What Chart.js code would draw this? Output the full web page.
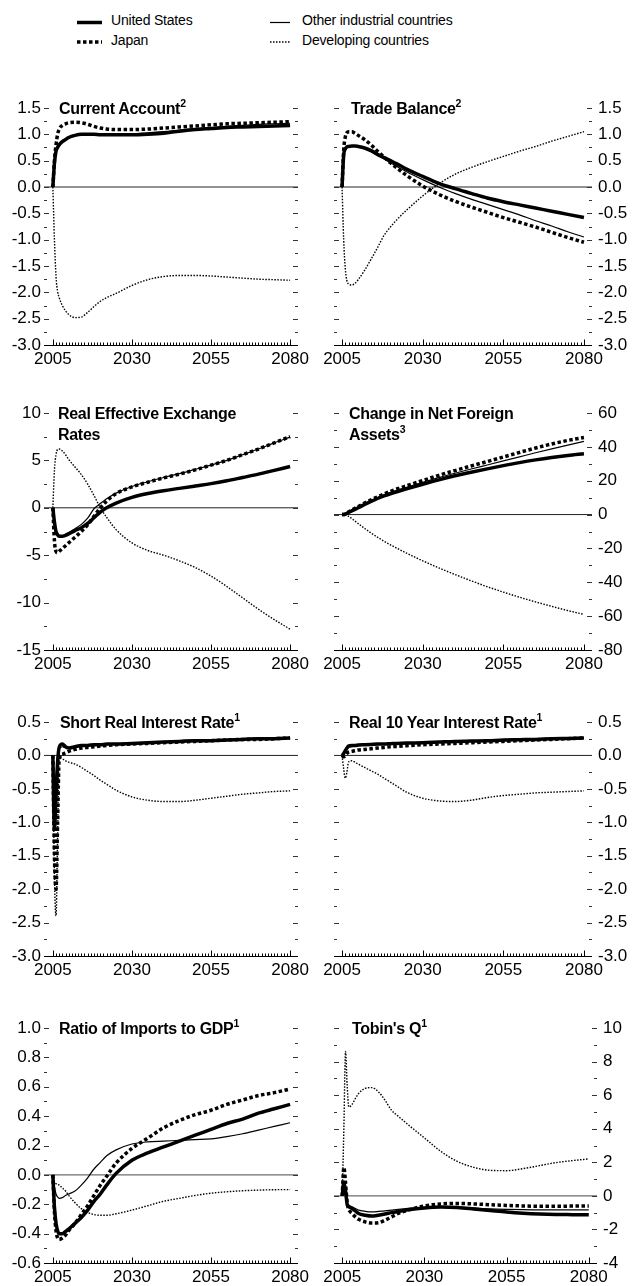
<!DOCTYPE html>
<html>
<head>
<meta charset="utf-8">
<script src="https://cdn.jsdelivr.net/npm/chart.js@4.4.1/dist/chart.umd.min.js"></script>
<style>
  html, body { margin: 0; padding: 0; background: #fff; }
  body { width: 636px; height: 1286px; position: relative; overflow: hidden;
         font-family: 'Liberation Sans', Arial, sans-serif; color: #000; }
  canvas { position: absolute; }
  .leg { position: absolute; font-size: 14px; line-height: 20px; letter-spacing: -0.2px; white-space: nowrap; }
  .ttl { position: absolute; font-size: 16px; font-weight: bold; line-height: 21px; letter-spacing: -0.3px; white-space: nowrap; }
  .ttl span { font-size: 10.5px; position: relative; top: -7px; letter-spacing: 0; }
</style>
</head>
<body>
<svg id="legendLines" width="636" height="60" style="position:absolute;left:0;top:0"></svg>
<script>
// x values (years) shared by every series
var years = [2005, 2005.5, 2006, 2006.5, 2007, 2008, 2009, 2010, 2012, 2014, 2016, 2018, 2020, 2022, 2025,
             2030, 2035, 2040, 2045, 2050, 2055, 2060, 2065, 2070, 2075, 2080];
var seriesNames = ['United States', 'Japan', 'Other industrial countries', 'Developing countries'];
var xTicks = [2005, 2030, 2055, 2080];

// Current Account
var caUS = [0, 0.45, 0.68, 0.75, 0.8, 0.86, 0.9, 0.94, 0.98, 1.0, 1.0, 1.0, 0.99, 0.99, 0.99, 0.99, 1.0, 1.02, 1.06, 1.09, 1.11, 1.13, 1.14, 1.15, 1.16, 1.17];
var caJP = [0, 0.5, 0.8, 1.0, 1.1, 1.17, 1.2, 1.22, 1.23, 1.22, 1.19, 1.15, 1.12, 1.1, 1.09, 1.09, 1.1, 1.12, 1.14, 1.16, 1.18, 1.2, 1.21, 1.22, 1.23, 1.24];
var caOT = [0, 0.45, 0.7, 0.78, 0.82, 0.88, 0.92, 0.95, 0.99, 1.0, 1.0, 1.0, 1.0, 1.0, 1.0, 1.01, 1.03, 1.05, 1.08, 1.11, 1.13, 1.15, 1.17, 1.19, 1.2, 1.21];
var caDV = [0, -1.0, -1.7, -1.98, -2.1, -2.25, -2.35, -2.42, -2.48, -2.47, -2.38, -2.27, -2.17, -2.1, -2.02, -1.87, -1.76, -1.7, -1.68, -1.68, -1.69, -1.71, -1.73, -1.75, -1.76, -1.77];
var caTicks = [1.5, 1.0, 0.5, 0.0, -0.5, -1.0, -1.5, -2.0, -2.5, -3.0];

// Trade Balance
var tbUS = [0, 0.6, 0.72, 0.76, 0.77, 0.78, 0.78, 0.77, 0.74, 0.69, 0.62, 0.56, 0.5, 0.44, 0.34, 0.2, 0.07, -0.03, -0.12, -0.21, -0.28, -0.34, -0.4, -0.46, -0.52, -0.58];
var tbJP = [0, 0.7, 0.95, 1.03, 1.05, 1.05, 1.02, 0.98, 0.9, 0.8, 0.68, 0.57, 0.46, 0.36, 0.22, 0.02, -0.14, -0.27, -0.38, -0.48, -0.58, -0.67, -0.76, -0.86, -0.96, -1.05];
var tbOT = [0, 0.6, 0.72, 0.76, 0.77, 0.78, 0.78, 0.77, 0.73, 0.67, 0.6, 0.53, 0.46, 0.39, 0.29, 0.14, 0.0, -0.12, -0.23, -0.33, -0.43, -0.53, -0.64, -0.74, -0.85, -0.95];
var tbDV = [0, -1.0, -1.55, -1.78, -1.84, -1.86, -1.83, -1.76, -1.58, -1.37, -1.15, -0.92, -0.76, -0.62, -0.44, -0.17, 0.06, 0.24, 0.37, 0.48, 0.58, 0.68, 0.77, 0.87, 0.96, 1.05];
var tbTicks = [1.5, 1.0, 0.5, 0.0, -0.5, -1.0, -1.5, -2.0, -2.5, -3.0];

// Real Effective Exchange Rates
var rxUS = [0, -1.5, -2.5, -2.85, -3.0, -3.0, -2.9, -2.75, -2.4, -2.1, -1.65, -1.05, -0.45, 0.0, 0.5, 1.1, 1.5, 1.8, 2.05, 2.3, 2.55, 2.85, 3.2, 3.55, 3.95, 4.35];
var rxJP = [0, -3.5, -4.6, -4.75, -4.6, -4.3, -4.0, -3.7, -3.1, -2.5, -1.8, -0.9, 0.0, 0.7, 1.5, 2.2, 2.7, 3.15, 3.55, 4.0, 4.5, 5.0, 5.6, 6.2, 6.85, 7.5];
var rxOT = [0, -1.5, -2.5, -2.85, -3.0, -2.95, -2.8, -2.6, -2.2, -1.75, -1.1, -0.1, 0.45, 0.95, 1.55, 2.25, 2.75, 3.2, 3.6, 4.05, 4.5, 5.0, 5.6, 6.2, 6.85, 7.45];
var rxDV = [0, 4.0, 5.6, 6.15, 6.2, 6.0, 5.6, 5.1, 4.3, 3.5, 2.5, 1.3, 0.0, -1.0, -2.3, -3.7, -4.5, -5.0, -5.6, -6.3, -7.2, -8.3, -9.5, -10.7, -11.8, -12.8];
var rxTicks = [10, 5, 0, -5, -10, -15];

// Change in Net Foreign Assets
var nfUS = [0, 0, 0.3, 0.8, 1.3, 2.2, 3.1, 4.0, 6.0, 7.8, 9.5, 11.0, 12.3, 13.5, 15.2, 17.9, 20.5, 22.9, 25.0, 27.0, 28.9, 30.7, 32.3, 33.7, 34.9, 35.9];
var nfJP = [0, 0, 0.3, 0.9, 1.5, 2.6, 3.7, 4.7, 6.8, 8.7, 10.5, 12.2, 13.7, 15.1, 17.0, 20.1, 23.2, 26.0, 28.7, 31.3, 34.0, 36.7, 39.3, 41.7, 43.8, 45.5];
var nfOT = [0, 0, 0.3, 0.8, 1.4, 2.4, 3.4, 4.4, 6.4, 8.2, 9.9, 11.5, 13.0, 14.3, 16.1, 19.0, 21.8, 24.4, 26.9, 29.3, 31.7, 34.1, 36.5, 38.8, 41.0, 43.2];
var nfDV = [0, 0, 0, -0.5, -1.0, -2.3, -3.8, -5.3, -8.2, -10.9, -13.4, -15.7, -17.9, -19.9, -22.8, -27.3, -31.5, -35.4, -39.1, -42.6, -45.8, -48.8, -51.6, -54.2, -56.7, -59.0];
var nfTicks = [60, 40, 20, 0, -20, -40, -60, -80];

// Short Real Interest Rate
var srUS = [0, -1.1, -0.6, -0.1, 0.12, 0.17, 0.13, 0.11, 0.13, 0.15, 0.15, 0.16, 0.16, 0.17, 0.17, 0.18, 0.19, 0.2, 0.21, 0.22, 0.22, 0.23, 0.24, 0.25, 0.25, 0.26];
var srJP = [0, -1.5, -2.0, -1.0, -0.05, 0.02, 0.04, 0.06, 0.09, 0.11, 0.12, 0.13, 0.14, 0.15, 0.16, 0.17, 0.18, 0.19, 0.2, 0.21, 0.22, 0.23, 0.24, 0.24, 0.25, 0.26];
var srOT = [0, -0.4, -0.3, 0.0, 0.1, 0.13, 0.12, 0.12, 0.13, 0.14, 0.15, 0.15, 0.16, 0.16, 0.17, 0.18, 0.19, 0.2, 0.2, 0.21, 0.22, 0.23, 0.24, 0.24, 0.25, 0.26];
var srDV = [0, -1.8, -2.4, -1.2, -0.02, -0.05, -0.08, -0.1, -0.13, -0.18, -0.24, -0.3, -0.37, -0.43, -0.52, -0.62, -0.67, -0.69, -0.69, -0.67, -0.64, -0.61, -0.58, -0.56, -0.54, -0.53];
var srTicks = [0.5, 0.0, -0.5, -1.0, -1.5, -2.0, -2.5, -3.0];

// Real 10 Year Interest Rate
var lrUS = [0, 0.03, 0.07, 0.11, 0.14, 0.15, 0.15, 0.155, 0.16, 0.165, 0.17, 0.17, 0.175, 0.18, 0.185, 0.19, 0.2, 0.21, 0.215, 0.22, 0.23, 0.235, 0.24, 0.25, 0.255, 0.26];
var lrJP = [0, -0.02, 0.0, 0.03, 0.05, 0.06, 0.07, 0.08, 0.09, 0.1, 0.11, 0.12, 0.13, 0.135, 0.145, 0.16, 0.17, 0.18, 0.19, 0.2, 0.21, 0.22, 0.23, 0.24, 0.25, 0.26];
var lrOT = [0, 0.02, 0.06, 0.1, 0.12, 0.13, 0.14, 0.145, 0.15, 0.155, 0.16, 0.165, 0.17, 0.175, 0.18, 0.185, 0.195, 0.2, 0.21, 0.215, 0.22, 0.23, 0.24, 0.245, 0.25, 0.26];
var lrDV = [0, -0.2, -0.34, -0.25, -0.1, -0.08, -0.1, -0.13, -0.18, -0.23, -0.28, -0.34, -0.4, -0.46, -0.55, -0.64, -0.68, -0.69, -0.67, -0.63, -0.6, -0.58, -0.56, -0.55, -0.54, -0.53];
var lrTicks = [0.5, 0.0, -0.5, -1.0, -1.5, -2.0, -2.5, -3.0];

// Ratio of Imports to GDP
var imUS = [0, -0.22, -0.33, -0.38, -0.4, -0.4, -0.385, -0.37, -0.33, -0.29, -0.24, -0.18, -0.13, -0.07, 0.01, 0.1, 0.15, 0.19, 0.23, 0.27, 0.31, 0.35, 0.38, 0.42, 0.45, 0.48];
var imJP = [0, -0.25, -0.38, -0.43, -0.44, -0.43, -0.41, -0.38, -0.33, -0.27, -0.21, -0.14, -0.07, -0.01, 0.08, 0.18, 0.25, 0.32, 0.37, 0.41, 0.44, 0.48, 0.51, 0.54, 0.56, 0.585];
var imOT = [0, -0.08, -0.13, -0.15, -0.16, -0.155, -0.14, -0.13, -0.11, -0.07, -0.02, 0.04, 0.085, 0.13, 0.17, 0.21, 0.225, 0.23, 0.235, 0.24, 0.245, 0.26, 0.28, 0.305, 0.33, 0.355];
var imDV = [0, -0.05, -0.06, -0.065, -0.07, -0.09, -0.11, -0.14, -0.19, -0.23, -0.255, -0.27, -0.275, -0.275, -0.265, -0.24, -0.21, -0.18, -0.16, -0.14, -0.125, -0.115, -0.108, -0.104, -0.101, -0.1];
var imTicks = [1.0, 0.8, 0.6, 0.4, 0.2, 0.0, -0.2, -0.4, -0.6];

// Tobin's Q
var tqUS = [0, 0.8, 0.3, -0.5, -0.65, -0.75, -0.9, -1.05, -1.15, -1.2, -1.15, -1.08, -1.0, -0.93, -0.83, -0.72, -0.67, -0.7, -0.78, -0.87, -0.96, -1.03, -1.08, -1.11, -1.12, -1.13];
var tqJP = [0, 1.7, 0.8, -0.4, -0.8, -1.05, -1.25, -1.4, -1.55, -1.62, -1.6, -1.45, -1.25, -1.05, -0.85, -0.6, -0.48, -0.45, -0.48, -0.53, -0.57, -0.6, -0.62, -0.62, -0.61, -0.6];
var tqOT = [0, 0.6, 0.2, -0.4, -0.55, -0.65, -0.75, -0.85, -0.92, -0.95, -0.93, -0.9, -0.85, -0.8, -0.74, -0.68, -0.65, -0.67, -0.72, -0.77, -0.8, -0.82, -0.83, -0.83, -0.83, -0.83];
var tqDV = [0, 4.0, 8.6, 6.6, 5.3, 5.45, 5.8, 6.1, 6.4, 6.45, 6.2, 5.7, 5.1, 4.75, 4.25, 3.45, 2.65, 2.05, 1.7, 1.52, 1.5, 1.62, 1.8, 1.98, 2.1, 2.2];
var tqTicks = [10, 8, 6, 4, 2, 0, -2, -4];

// line look per series: US, Japan, other industrial, developing
var lineStyles = [
    { w: 3.5, dash: [] },
    { w: 3.5, dash: [3.5, 2.5] },
    { w: 1.2, dash: [] },
    { w: 1.4, dash: [1.5, 1.5] }
];

// chart area top/bottom of each row of panels
var rows = [[108, 345], [413, 650], [722, 956], [1028, 1263]];
// zero line look per row (grey in the outer rows, dark in the middle ones)
var zeroLook = [['#6e6e6e', 1.4], ['#222', 1], ['#222', 1], ['#6e6e6e', 1.4]];

var panels = [
    { title: 'Current Account<span>2</span>', tx: 59, side: 'left', row: 0, ticks: caTicks, dec: 1, data: [caUS, caJP, caOT, caDV] },
    { title: 'Trade Balance<span>2</span>', tx: 351, side: 'right', row: 0, ticks: tbTicks, dec: 1, data: [tbUS, tbJP, tbOT, tbDV] },
    { title: 'Real Effective Exchange<br>Rates', tx: 58, side: 'left', row: 1, ticks: rxTicks, dec: 0, data: [rxUS, rxJP, rxOT, rxDV] },
    { title: 'Change in Net Foreign<br>Assets<span>3</span>', tx: 349, side: 'right', row: 1, ticks: nfTicks, dec: 0, data: [nfUS, nfJP, nfOT, nfDV] },
    { title: 'Short Real Interest Rate<span>1</span>', tx: 60, side: 'left', row: 2, ticks: srTicks, dec: 1, data: [srUS, srJP, srOT, srDV] },
    { title: 'Real 10 Year Interest Rate<span>1</span>', tx: 349, side: 'right', row: 2, ticks: lrTicks, dec: 1, data: [lrUS, lrJP, lrOT, lrDV] },
    { title: 'Ratio of Imports to GDP<span>1</span>', tx: 59, side: 'left', row: 3, ticks: imTicks, dec: 1, data: [imUS, imJP, imOT, imDV] },
    { title: 'Tobin\'s Q<span>1</span>', tx: 352, side: 'right', row: 3, ticks: tqTicks, dec: 0, data: [tqUS, tqJP, tqOT, tqDV], yWidth: 39 }
];

Chart.defaults.font.family = "'Liberation Sans', Arial, Helvetica, sans-serif";
Chart.defaults.color = '#000';

// zero line, inward y tick dashes on both sides, year ruler on the bottom axis
var framePlugin = {
    id: 'frame',
    beforeDatasetsDraw: function(chart) {
        var ctx = chart.ctx, a = chart.chartArea, x = chart.scales.x, y = chart.scales.y;
        var zl = chart.options.zeroLook;
        ctx.save();
        var y0 = y.getPixelForValue(0);
        ctx.strokeStyle = zl[0];
        ctx.lineWidth = zl[1];
        ctx.beginPath(); ctx.moveTo(a.left, y0); ctx.lineTo(a.right, y0); ctx.stroke();

        ctx.strokeStyle = '#333';
        ctx.lineWidth = 1;
        ctx.beginPath();
        y.ticks.forEach(function(t) {
            var py = Math.round(y.getPixelForValue(t.value)) + 0.5;
            var len = t.label ? 5 : 3;
            ctx.moveTo(a.left, py); ctx.lineTo(a.left + len, py);
            ctx.moveTo(a.right - len, py); ctx.lineTo(a.right, py);
        });
        ctx.stroke();

        ctx.strokeStyle = '#000';
        var yb = Math.round(a.bottom) + 0.5;
        ctx.beginPath();
        ctx.moveTo(a.left, yb); ctx.lineTo(a.right, yb);
        for (var yr = xTicks[0]; yr <= xTicks[xTicks.length - 1]; yr++) {
            var px = Math.round(x.getPixelForValue(yr)) + 0.5;
            var len = xTicks.indexOf(yr) >= 0 ? 6 : 3;
            ctx.moveTo(px, yb); ctx.lineTo(px, yb - len);
        }
        ctx.stroke();
        ctx.restore();
    }
};

// legend
var legendPos = [[77, 102, 111, 20], [77, 102, 111, 39.5], [270, 290, 302, 20], [270, 290, 302, 39.5]];
var svg = document.getElementById('legendLines');
seriesNames.forEach(function(name, k) {
    var lp = legendPos[k];
    var ln = document.createElementNS('http://www.w3.org/2000/svg', 'line');
    ln.setAttribute('x1', lp[0]); ln.setAttribute('x2', lp[1]);
    ln.setAttribute('y1', lp[3] + 2.5); ln.setAttribute('y2', lp[3] + 2.5);
    ln.setAttribute('stroke', '#000');
    ln.setAttribute('stroke-width', lineStyles[k].w);
    if (lineStyles[k].dash.length) ln.setAttribute('stroke-dasharray', lineStyles[k].dash.join(' '));
    svg.appendChild(ln);
    var d = document.createElement('div');
    d.className = 'leg';
    d.style.left = lp[2] + 'px';
    d.style.top = (lp[3] - 10) + 'px';
    d.textContent = name;
    document.body.appendChild(d);
});

panels.forEach(function(p) {
    var top = rows[p.row][0], bottom = rows[p.row][1];
    var h = bottom - top;
    var left = p.side === 'left';
    var yw = p.yWidth || 44;
    var cv = document.createElement('canvas');
    cv.width = left ? 316 : 320;
    cv.height = h + 20 + 26;
    cv.style.left = (left ? 0 : 316) + 'px';
    cv.style.top = (top - 20) + 'px';
    document.body.appendChild(cv);

    var isMajor = function(v) {
        return p.ticks.some(function(t) { return Math.abs(t - v) < 1e-9; });
    };

    new Chart(cv, {
        type: 'line',
        data: {
            datasets: p.data.map(function(arr, k) {
                return {
                    label: seriesNames[k],
                    data: years.map(function(yr, j) { return { x: yr, y: arr[j] }; }),
                    borderColor: '#000',
                    borderWidth: lineStyles[k].w,
                    borderDash: lineStyles[k].dash,
                    borderJoinStyle: 'round',
                    pointRadius: 0,
                    cubicInterpolationMode: 'monotone',
                    fill: false
                };
            })
        },
        options: {
            responsive: false,
            animation: false,
            events: [],
            zeroLook: zeroLook[p.row],
            layout: { padding: left ? { top: 20, right: 18, left: 0, bottom: 0 } : { top: 20, left: 18, right: 0, bottom: 0 } },
            plugins: { legend: { display: false }, tooltip: { enabled: false } },
            scales: {
                x: {
                    type: 'linear',
                    min: left ? 2002.2 : 2002.5,
                    max: 2082.5,
                    afterBuildTicks: function(s) { s.ticks = xTicks.map(function(v) { return { value: v }; }); },
                    afterFit: function(s) { s.height = 26; },
                    grid: { display: false, drawTicks: false },
                    border: { display: false },
                    ticks: { font: { size: 17 }, padding: 4, maxRotation: 0, autoSkip: false,
                             callback: function(v) { return String(v); } }
                },
                y: {
                    position: left ? 'left' : 'right',
                    min: Math.min.apply(null, p.ticks),
                    max: Math.max.apply(null, p.ticks),
                    afterBuildTicks: function(s) {
                        var list = [];
                        for (var i = 0; i < p.ticks.length; i++) {
                            list.push({ value: p.ticks[i] });
                            if (i < p.ticks.length - 1) list.push({ value: (p.ticks[i] + p.ticks[i + 1]) / 2 });
                        }
                        s.ticks = list;
                    },
                    afterFit: function(s) { s.width = yw; },
                    grid: { display: false, drawTicks: false },
                    border: { display: false },
                    ticks: { font: { size: 17 }, padding: left ? 3 : 6, autoSkip: false,
                             callback: function(v) { return isMajor(v) ? Number(v).toFixed(p.dec) : ''; } }
                }
            }
        },
        plugins: [framePlugin]
    });

    var t = document.createElement('div');
    t.className = 'ttl';
    t.style.left = p.tx + 'px';
    t.style.top = (top - 10.5) + 'px';
    t.innerHTML = p.title;
    document.body.appendChild(t);
});
</script>
</body>
</html>
